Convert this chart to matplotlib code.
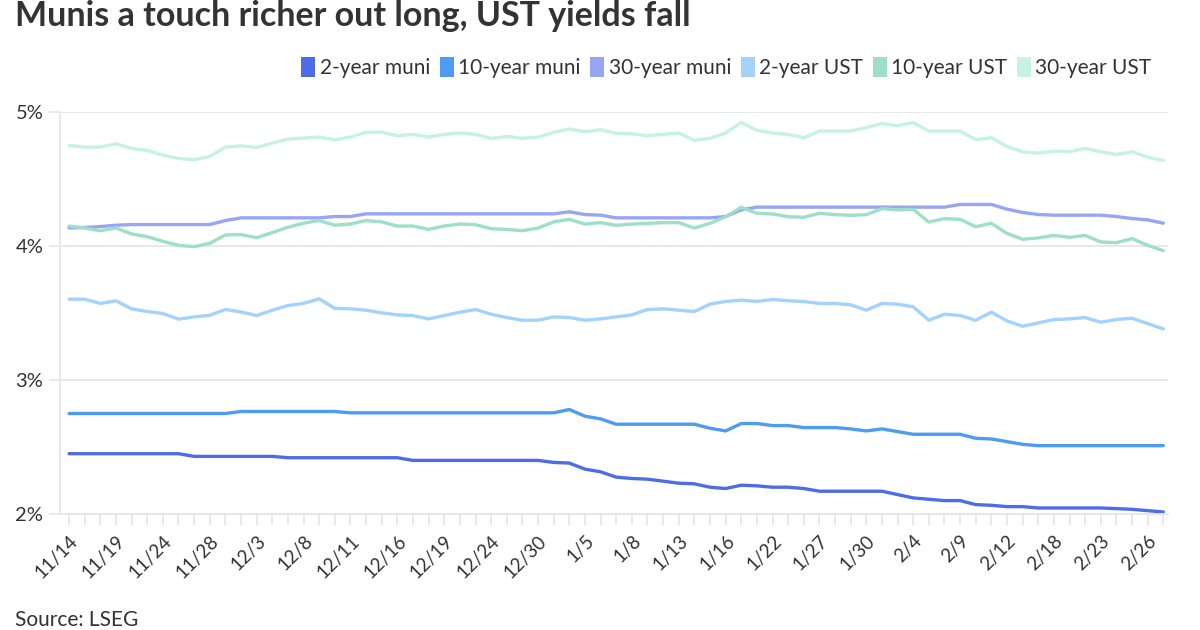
import matplotlib
matplotlib.use("Agg")
import matplotlib.pyplot as plt
from matplotlib.lines import Line2D
from matplotlib.path import Path

plt.rcParams['font.family'] = ['Lato', 'DejaVu Sans']

# trading days 11/14 .. 2/27
dates = ["11/14", "11/17", "11/18", "11/19", "11/20", "11/21", "11/24", "11/25", "11/26", "11/28",
         "12/1", "12/2", "12/3", "12/4", "12/5", "12/8", "12/9", "12/10", "12/11", "12/12",
         "12/15", "12/16", "12/17", "12/18", "12/19", "12/22", "12/23", "12/24", "12/26", "12/29",
         "12/30", "12/31", "1/2", "1/5", "1/6", "1/7", "1/8", "1/9", "1/12", "1/13",
         "1/14", "1/15", "1/16", "1/20", "1/21", "1/22", "1/23", "1/26", "1/27", "1/28",
         "1/29", "1/30", "2/2", "2/3", "2/4", "2/5", "2/6", "2/9", "2/10", "2/11",
         "2/12", "2/13", "2/17", "2/18", "2/19", "2/20", "2/23", "2/24", "2/25", "2/26",
         "2/27"]

muni_2y = [2.45, 2.45, 2.45, 2.45, 2.45, 2.45, 2.45, 2.45, 2.43, 2.43,
           2.43, 2.43, 2.43, 2.43, 2.42, 2.42, 2.42, 2.42, 2.42, 2.42,
           2.42, 2.42, 2.40, 2.40, 2.40, 2.40, 2.40, 2.40, 2.40, 2.40,
           2.40, 2.385, 2.38, 2.335, 2.315, 2.275, 2.265, 2.26, 2.245, 2.23,
           2.225, 2.20, 2.19, 2.215, 2.21, 2.20, 2.20, 2.19, 2.17, 2.17,
           2.17, 2.17, 2.17, 2.145, 2.12, 2.11, 2.10, 2.10, 2.07, 2.065,
           2.055, 2.055, 2.045, 2.045, 2.045, 2.045, 2.045, 2.04, 2.035, 2.025,
           2.015]

muni_10y = [2.75, 2.75, 2.75, 2.75, 2.75, 2.75, 2.75, 2.75, 2.75, 2.75,
            2.75, 2.765, 2.765, 2.765, 2.765, 2.765, 2.765, 2.765, 2.755, 2.755,
            2.755, 2.755, 2.755, 2.755, 2.755, 2.755, 2.755, 2.755, 2.755, 2.755,
            2.755, 2.755, 2.78, 2.73, 2.71, 2.67, 2.67, 2.67, 2.67, 2.67,
            2.67, 2.64, 2.62, 2.675, 2.675, 2.66, 2.66, 2.645, 2.645, 2.645,
            2.635, 2.62, 2.635, 2.615, 2.595, 2.595, 2.595, 2.595, 2.565, 2.56,
            2.54, 2.52, 2.51, 2.51, 2.51, 2.51, 2.51, 2.51, 2.51, 2.51,
            2.51]

muni_30y = [4.135, 4.138, 4.145, 4.155, 4.16, 4.16, 4.16, 4.16, 4.16, 4.16,
            4.19, 4.21, 4.21, 4.21, 4.21, 4.21, 4.21, 4.22, 4.22, 4.24,
            4.24, 4.24, 4.24, 4.24, 4.24, 4.24, 4.24, 4.24, 4.24, 4.24,
            4.24, 4.24, 4.255, 4.235, 4.23, 4.21, 4.21, 4.21, 4.21, 4.21,
            4.21, 4.21, 4.22, 4.27, 4.29, 4.29, 4.29, 4.29, 4.29, 4.29,
            4.29, 4.29, 4.29, 4.29, 4.29, 4.29, 4.29, 4.31, 4.31, 4.31,
            4.275, 4.25, 4.235, 4.23, 4.23, 4.23, 4.23, 4.22, 4.205, 4.195,
            4.17]

ust_2y = [3.603, 3.603, 3.571, 3.591, 3.531, 3.511, 3.496, 3.454, 3.471, 3.483,
          3.526, 3.508, 3.481, 3.521, 3.556, 3.571, 3.606, 3.535, 3.531, 3.521,
          3.501, 3.486, 3.481, 3.456, 3.481, 3.506, 3.526, 3.491, 3.466, 3.446,
          3.446, 3.471, 3.466, 3.446, 3.456, 3.471, 3.486, 3.526, 3.531, 3.521,
          3.511, 3.566, 3.586, 3.596, 3.586, 3.601, 3.591, 3.586, 3.571, 3.571,
          3.561, 3.521, 3.571, 3.566, 3.546, 3.446, 3.491, 3.481, 3.446, 3.506,
          3.441, 3.401, 3.426, 3.451, 3.456, 3.466, 3.431, 3.451, 3.461, 3.421,
          3.381]

ust_10y = [4.149, 4.134, 4.114, 4.134, 4.09, 4.07, 4.035, 4.005, 3.995, 4.02,
           4.082, 4.085, 4.062, 4.10, 4.14, 4.17, 4.19, 4.155, 4.164, 4.19,
           4.18, 4.149, 4.149, 4.124, 4.149, 4.164, 4.159, 4.129, 4.124, 4.114,
           4.134, 4.18, 4.199, 4.164, 4.174, 4.154, 4.164, 4.169, 4.174, 4.174,
           4.134, 4.169, 4.219, 4.289, 4.244, 4.239, 4.219, 4.214, 4.244, 4.234,
           4.229, 4.234, 4.279, 4.269, 4.274, 4.179, 4.204, 4.199, 4.144, 4.169,
           4.094, 4.05, 4.06, 4.079, 4.064, 4.079, 4.03, 4.025, 4.055, 4.005,
           3.965]

ust_30y = [4.75, 4.738, 4.738, 4.763, 4.728, 4.713, 4.678, 4.653, 4.643, 4.668,
           4.738, 4.748, 4.735, 4.768, 4.798, 4.805, 4.813, 4.793, 4.813, 4.848,
           4.85, 4.823, 4.833, 4.813, 4.833, 4.843, 4.833, 4.803, 4.818, 4.803,
           4.813, 4.848, 4.873, 4.853, 4.868, 4.840, 4.838, 4.823, 4.833, 4.843,
           4.788, 4.803, 4.843, 4.922, 4.863, 4.843, 4.833, 4.808, 4.858, 4.858,
           4.858, 4.883, 4.914, 4.898, 4.922, 4.858, 4.858, 4.858, 4.793, 4.808,
           4.743, 4.703, 4.693, 4.708, 4.703, 4.728, 4.703, 4.683, 4.703, 4.663,
           4.638]

names = ["2-year muni", "10-year muni", "30-year muni", "2-year UST", "10-year UST", "30-year UST"]
colors = ["#4e6ce8", "#4d9bf2", "#97a5f2", "#a3d3fb", "#9ddfc8", "#c6f2e3"]
series = [muni_2y, muni_10y, muni_30y, ust_2y, ust_10y, ust_30y]

grid_c = "#e6e6e6"
text_c = "#333333"

fig = plt.figure(figsize=(12, 6.3), dpi=100)
ax = fig.add_axes([60 / 1200, 1 - 514 / 630, (1168 - 60) / 1200, (514 - 112) / 630])

x = list(range(len(dates)))
for s, c, n in zip(series, colors, names):
    ax.plot(x, s, color=c, lw=2.4, label=n, solid_capstyle="round")

ax.set_ylim(2, 5)
ax.set_xlim(-0.58, 70.3)
ax.set_yticks([2, 3, 4, 5])
ax.set_yticklabels(["2%", "3%", "4%", "5%"])
ax.set_xticks(x)
ax.set_xticklabels([d if i % 3 == 0 else "" for i, d in enumerate(dates)],
                   rotation=45, ha="right", rotation_mode="anchor")

ax.grid(axis="y", color=grid_c, lw=1.3)
ax.set_axisbelow(True)
for side in ["top", "right"]:
    ax.spines[side].set_visible(False)
ax.spines["left"].set_color(grid_c)
ax.spines["bottom"].set_color(grid_c)
ax.spines["left"].set_linewidth(1.3)
ax.spines["bottom"].set_linewidth(1.3)
ax.tick_params(axis="y", length=8, color=grid_c, width=1.3, labelsize=14.5,
               labelcolor=text_c, pad=4)
ax.tick_params(axis="x", length=8, color=grid_c, width=1.3, labelsize=13.5,
               labelcolor=text_c, pad=5)

# tall swatch for the legend
swatch = Path([(-0.34, -0.5), (0.34, -0.5), (0.34, 0.5), (-0.34, 0.5), (-0.34, -0.5)],
              [Path.MOVETO, Path.LINETO, Path.LINETO, Path.LINETO, Path.CLOSEPOLY])
handles = [Line2D([], [], marker=swatch, ls="none", markersize=14, color=c,
                  markeredgewidth=0) for c in colors]
fig.legend(handles, names, loc="center right", bbox_to_anchor=(1170 / 1200, 1 - 68 / 630),
           ncol=6, frameon=False, fontsize=15, handlelength=0.6, handletextpad=0.25,
           columnspacing=0.5, labelcolor=text_c)

fig.text(15 / 1200, 1 - 16 / 630, "Munis a touch richer out long, UST yields fall",
         fontsize=24.5, fontweight="bold", color=text_c, va="center", ha="left")
fig.text(15 / 1200, 1 - 620 / 630, "Source: LSEG", fontsize=15, color=text_c,
         va="center", ha="left")

fig.savefig("out.png", dpi=100)
